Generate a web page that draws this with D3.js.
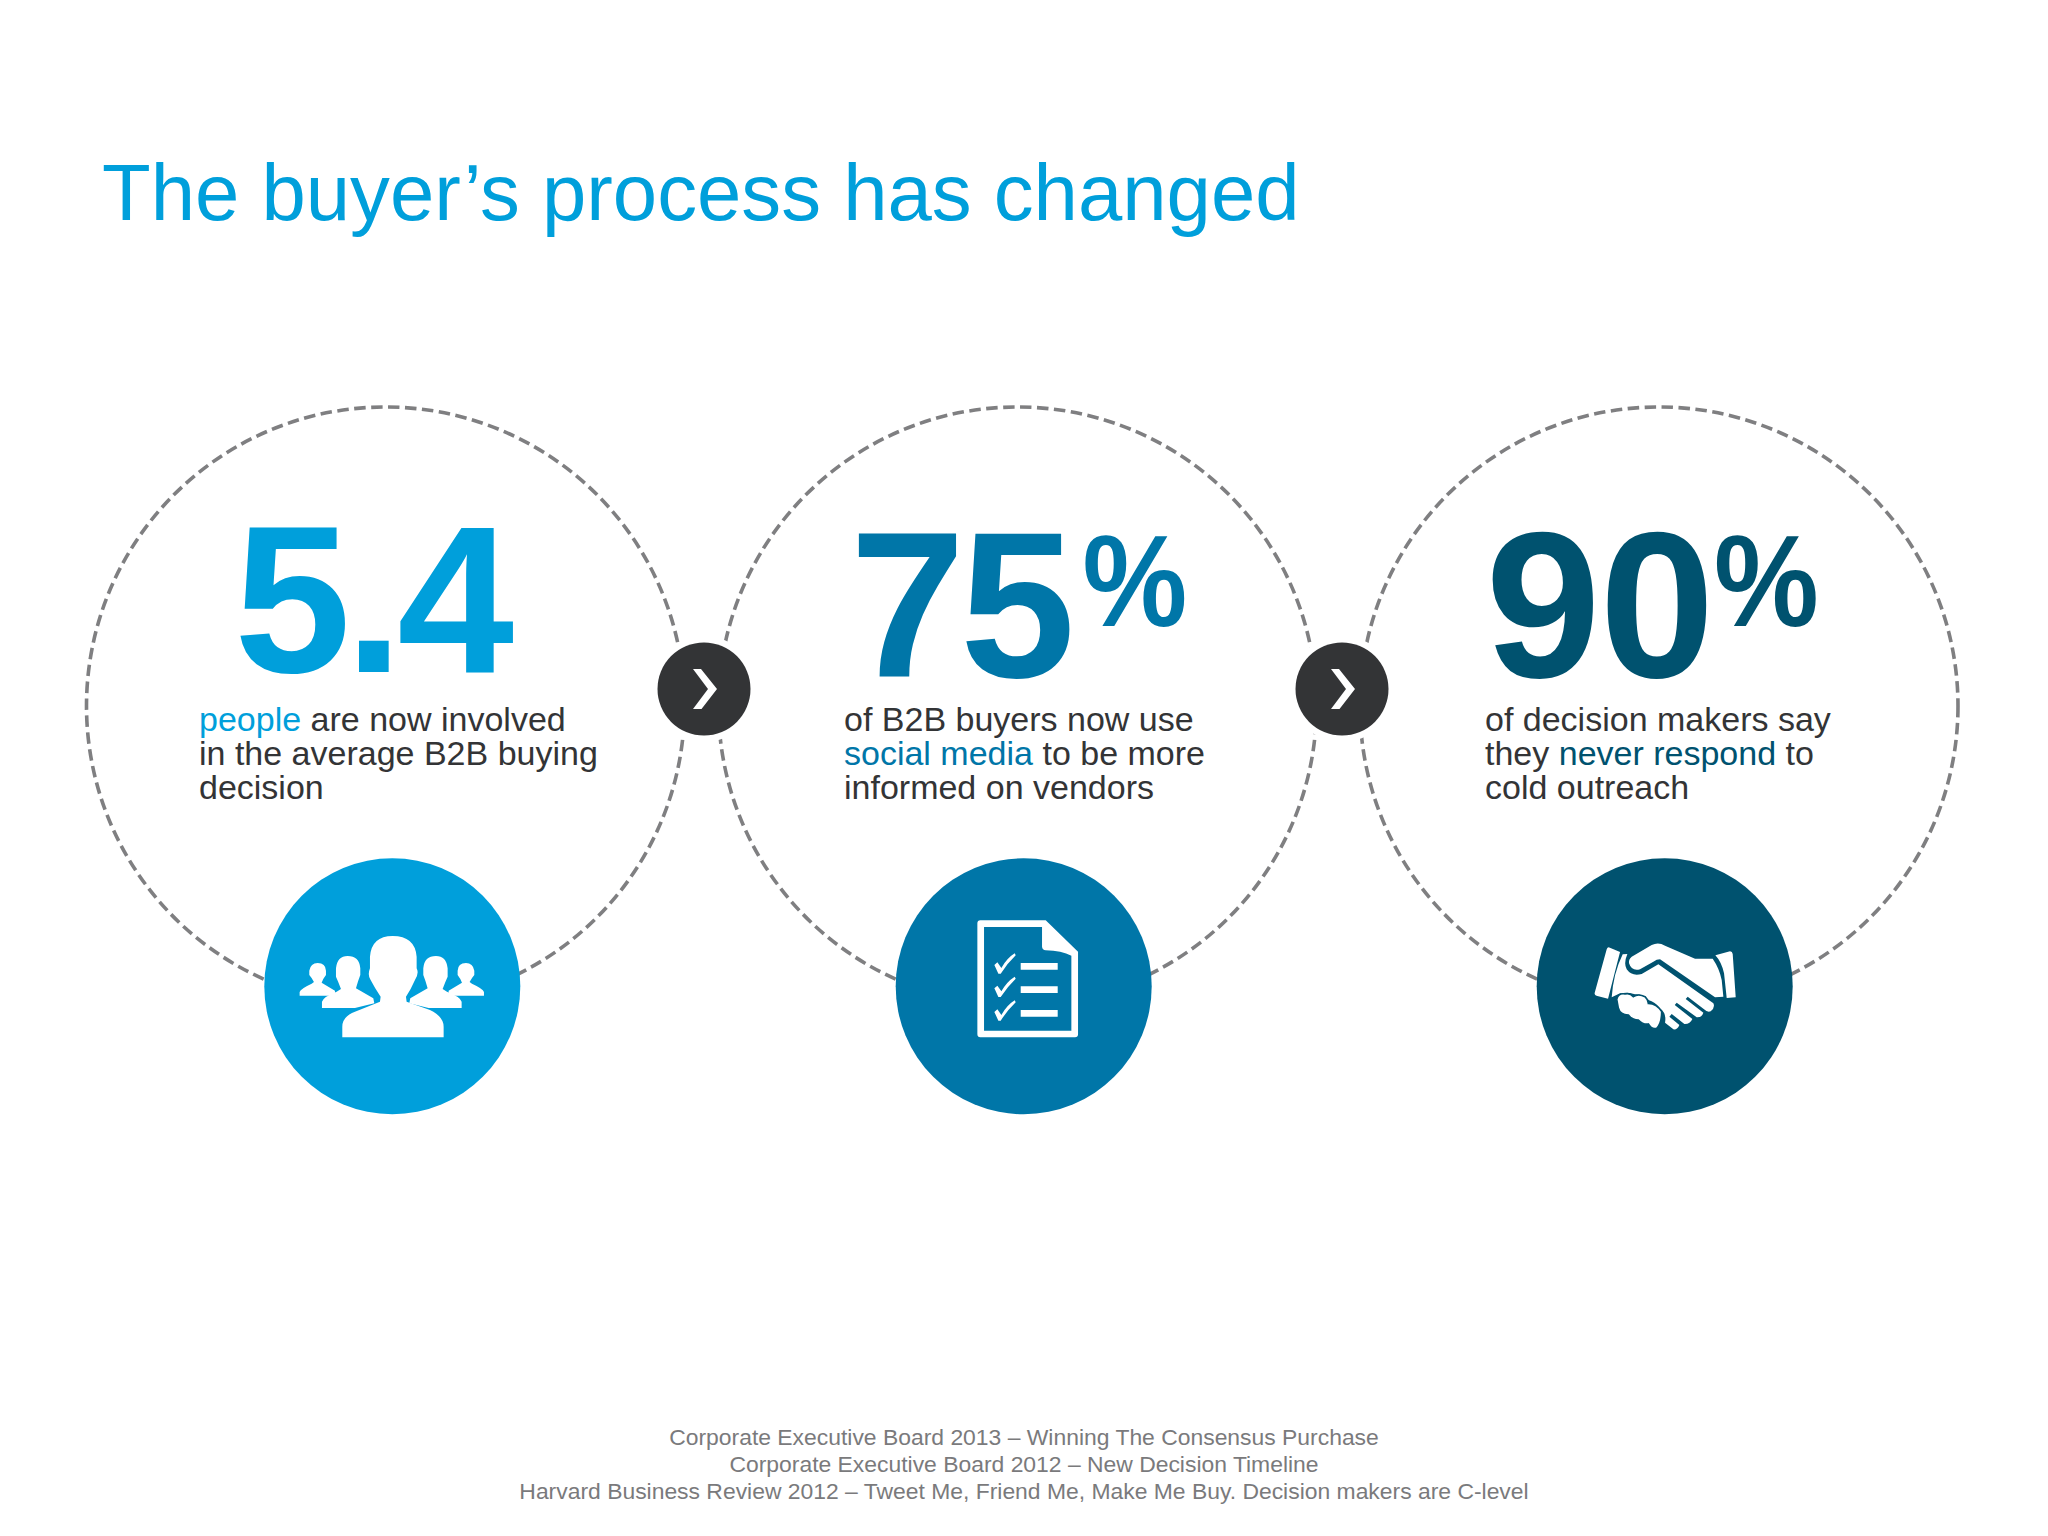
<!DOCTYPE html>
<html><head><meta charset="utf-8">
<script src="https://d3js.org/d3.v7.min.js"></script>
<style>html,body{margin:0;padding:0;background:#fff}svg{display:block}text{font-family:"Liberation Sans",Arial,sans-serif}</style>
</head><body><div id="c"></div>
<script>
const categories = ["people", "buyers", "decision makers"];
const values = [5.4, 75, 90];
const units = ["", "%", "%"];
const colours = ["#009fdb", "#0076a8", "#00526f"];
const title = "The buyer\u2019s process has changed";
const body1 = [[["people", 1], [" are now involved", 0]], [["in the average B2B buying", 0]], [["decision", 0]]];
const body2 = [[["of B2B buyers now use", 0]], [["social media", 1], [" to be more", 0]], [["informed on vendors", 0]]];
const body3 = [[["of decision makers say", 0]], [["they ", 0], ["never respond", 1], [" to", 0]], [["cold outreach", 0]]];
const bodies = [body1, body2, body3];
const sources = [
  "Corporate Executive Board 2013 \u2013 Winning The Consensus Purchase",
  "Corporate Executive Board 2012 \u2013 New Decision Timeline",
  "Harvard Business Review 2012 \u2013 Tweet Me, Friend Me, Make Me Buy. Decision makers are C-level"
];

const W = 2048, H = 1536;
const ringX = d3.scaleOrdinal(categories, [385.5, 1017.5, 1659]);
const badgeX = d3.scaleOrdinal(categories, [392.3, 1023.7, 1664.7]);
const textX = d3.scaleOrdinal(categories, [199, 844, 1485]);
const numX = d3.scaleOrdinal(categories, [234, 850, 1485.5]);
const numY = d3.scaleOrdinal(categories, [672, 677, 677]);
const numSize = d3.scaleOrdinal(categories, [210, 207, 207]);
const numGap = d3.scaleOrdinal(categories, [-6, -5, -1]);
const unitX = d3.scaleOrdinal(categories, [0, 1082.6, 1714]);
const ringY = 706, ringR = 299, badgeY = 986.3, badgeR = 128, arrowY = 689, arrowR = 46.5;
const arrowX = [704, 1342];

const svg = d3.select("#c").append("svg").attr("width", W).attr("height", H).attr("viewBox", `0 0 ${W} ${H}`);
svg.append("rect").attr("width", W).attr("height", H).attr("fill", "#fff");

svg.append("text").attr("x", 102).attr("y", 220).attr("font-size", 79.7).attr("fill", "#009fdb").text(title);

svg.selectAll(".ring").data(categories).join("circle").attr("class", "ring")
  .attr("cx", d => ringX(d)).attr("cy", ringY).attr("r", ringR)
  .attr("fill", "none").attr("stroke", "#7f7f81").attr("stroke-width", 3.6).attr("stroke-dasharray", "11.5 5.5");

svg.selectAll(".halo").data(arrowX).join("circle").attr("class", "halo")
  .attr("cx", d => d).attr("cy", arrowY).attr("r", 53).attr("fill", "#fff");
svg.selectAll(".arrow").data(arrowX).join("circle").attr("class", "arrow")
  .attr("cx", d => d).attr("cy", arrowY).attr("r", arrowR).attr("fill", "#333436");
svg.selectAll(".chev").data(arrowX).join("path").attr("class", "chev")
  .attr("transform", d => `translate(${d},${arrowY})`)
  .attr("d", "M-11 -20 L-3 -20 L13 0 L-2.5 20 L-11 20 L4 0 Z").attr("fill", "#fff");

categories.forEach((c, i) => {
  const g = svg.append("g");
  g.append("text").attr("x", numX(c)).attr("y", numY(c)).attr("font-size", numSize(c))
    .attr("font-weight", 700).attr("fill", colours[i]).attr("letter-spacing", numGap(c)).text(values[i]);
  if (units[i]) {
    g.append("text").attr("transform", `translate(${unitX(c)},626) scale(.95,1.04)`).attr("font-size", 124)
      .attr("font-weight", 700).attr("fill", colours[i]).text(units[i]);
  }
  bodies[i].forEach((line, j) => {
    const tx = g.append("text").attr("x", textX(c)).attr("y", 730.5 + j * 34.2).attr("font-size", 34).attr("fill", "#333436");
    line.forEach(seg => tx.append("tspan").attr("fill", seg[1] ? colours[i] : "#333436").style("white-space", "pre").text(seg[0]));
  });
});

svg.selectAll(".badge").data(categories).join("circle").attr("class", "badge")
  .attr("cx", d => badgeX(d)).attr("cy", badgeY).attr("r", badgeR).attr("fill", (d, i) => colours[i]);

// Icon outlines are drawn in a 900-unit local square whose centre sits on each badge.
const iconG = svg.selectAll(".icon").data(categories).join("g").attr("class", "icon")
  .attr("transform", d => `translate(${badgeX(d)},${badgeY}) scale(${1 / 3})`);

// people
const pIcon = d3.select(iconG.nodes()[0]).append("g").attr("transform", "translate(-457,-439)");
const small = "M179 467 L179 456 Q182 446 215 431 L222 426 Q215 413 208 405 L208 392 Q212 369 233 369 Q257 369 258 392 L258 405 Q250 415 245 428 L285 452 L285 467 Z";
const inner = "M246 504 L246 485 Q250 470 290 455 L303 447 Q295 425 288 410 L288 385 Q292 348 323 348 Q358 348 361 385 L361 405 Q355 420 348 445 L400 475 L403 490 L345 504 Z";
const centre = "M307 592 L307 560 Q307 530 345 515 L420 485 L422 470 Q405 445 392 420 Q382 405 390 385 L390 350 Q395 288 458 288 Q525 288 530 350 L530 385 Q538 400 525 420 Q512 450 498 470 L500 485 L570 510 Q611 530 611 560 L611 592 Z";
[small, inner].forEach(d => {
  pIcon.append("path").attr("d", d).attr("fill", "#fff");
  pIcon.append("path").attr("d", d).attr("fill", "#fff").attr("transform", "translate(911,0) scale(-1,1)");
});
pIcon.append("path").attr("d", centre).attr("fill", "#fff");

// checklist
const dIcon = d3.select(iconG.nodes()[1]).append("g").attr("transform", "translate(-431,-439)");
dIcon.append("path").attr("fill", "#fff").attr("fill-rule", "evenodd")
  .attr("d", "M292 250 Q292 241 301 241 L497 241 L594 335 L594 583 Q594 592 585 592 L301 592 Q292 592 292 583 Z M312 261 L312 572 L574 572 L574 347 Q545 332 497 331 Q487 330 486 320 L486 261 Z");
[0, 70, 141].forEach(dy => {
  dIcon.append("path").attr("fill", "#fff").attr("transform", `translate(0,${dy})`)
    .attr("d", "M343 375 L352 367 L364 384 Q380 355 404 340 L407 346 Q382 370 362 401 L355 401 Z M422 369 L533 369 L533 389 L422 389 Z");
});

// handshake
const hIcon = d3.select(iconG.nodes()[2]).append("g").attr("transform", "translate(-434,-439)");
[
  "M266 322 L300 336 L264 476 L232 468 Q222 465 224 458 L260 328 Q262 322 266 322 Z",
  "M586 346 L630 334 Q637 334 638 342 L647 472 L620 474 L612 400 Q604 365 586 346 Z",
  "M308 343 L322 342 Q310 370 320 388 Q335 410 365 402 L415 373 L580 490 Q586 503 572 514 Q562 518 552 508 L503 470 L497 477 L550 518 Q545 533 530 532 L470 488 L464 495 L517 537 Q510 553 493 552 L455 522 L448 530 L478 555 Q472 570 460 568 L435 548 Q440 520 420 505 Q405 485 385 480 Q370 462 345 463 Q325 455 300 460 L275 472 Q280 400 308 343 Z",
  "M327 370 Q325 358 335 350 L395 315 Q415 305 435 317 L525 356 L578 356 Q598 385 605 420 L610 470 L585 472 L420 358 Q410 358 400 365 L360 388 Q335 395 327 370 Z"
].forEach(d => hIcon.append("path").attr("d", d).attr("fill", "#fff"));
hIcon.append("path").attr("fill", "#fff").attr("stroke", colours[2]).attr("stroke-width", 5)
  .attr("d", "M290 478 Q295 458 315 462 Q330 458 340 470 Q355 460 375 470 Q385 480 385 490 Q410 490 425 515 Q425 550 410 565 Q395 570 385 552 Q370 555 355 540 Q335 540 325 525 Q300 525 295 505 Z");

svg.selectAll(".src").data(sources).join("text").attr("class", "src")
  .attr("x", 1024).attr("y", (d, i) => 1444.5 + i * 27.2).attr("text-anchor", "middle")
  .attr("font-size", 22.9).attr("fill", "#7a7a7c").text(d => d);
</script></body></html>
